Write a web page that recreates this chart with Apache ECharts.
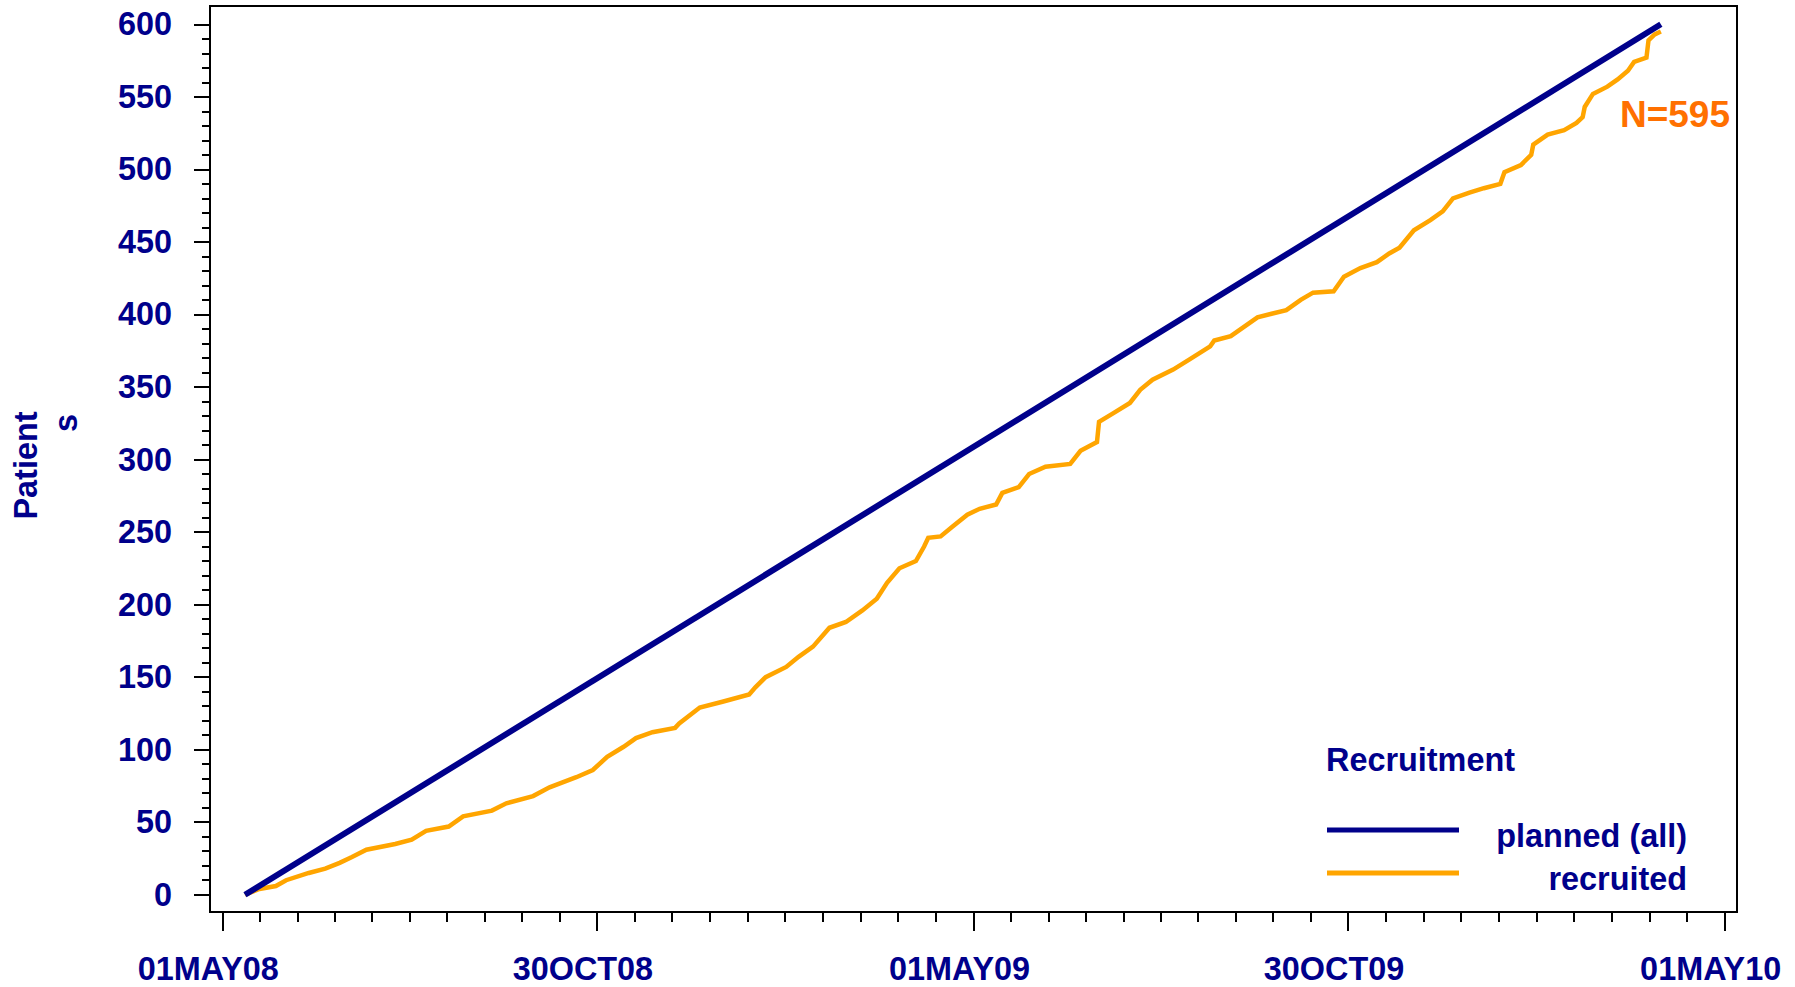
<!DOCTYPE html>
<html>
<head>
<meta charset="utf-8">
<script src="https://cdn.jsdelivr.net/npm/echarts@6/dist/echarts.min.js"></script>
<style>
  html, body { margin: 0; padding: 0; background: #fff; }
  #chart { width: 1795px; height: 987px; }
</style>
</head>
<body>
<div id="chart"></div>
<script>
// ---- data ----
const startDate = '2008-05-01';
const xTickDates = ['2008-05-01', '2008-10-30', '2009-05-01', '2009-10-30', '2010-05-01'];
const xTickLabels = ['01MAY08', '30OCT08', '01MAY09', '30OCT09', '01MAY10'];
const yTickValues = [0, 50, 100, 150, 200, 250, 300, 350, 400, 450, 500, 550, 600];

const plannedDates = ['2008-05-12', '2010-03-31'];
const plannedValues = [0, 600];

// days since 01MAY08
const recruitDay = [11, 18, 26, 31, 42, 50, 57, 63, 70, 84, 92, 99, 110, 117, 131, 138, 151, 159, 172, 180,
  187, 195, 201, 209, 220, 222, 232, 243, 256, 259, 264, 274, 280, 287, 295, 303, 311, 318, 323, 329,
  337, 341, 343, 349, 355, 362, 368, 376, 379, 387, 392, 400, 412, 417, 425, 426, 433, 441, 446, 452,
  462, 470, 480, 482, 490, 494, 503, 517, 524, 530, 540, 545, 553, 561, 567, 572, 579, 587, 593, 598,
  606, 613, 621, 623, 631, 636, 637, 644, 652, 658, 661, 662, 666, 673, 678, 683, 686, 692, 693, 696, 699];
const recruitCount = [0, 4, 6, 10, 15, 18, 22, 26, 31, 35, 38, 44, 47, 54, 58, 63, 68, 74, 81, 86,
  95, 102, 108, 112, 115, 118, 129, 133, 138, 143, 150, 157, 164, 171, 184, 188, 196, 204, 215, 225,
  230, 240, 246, 247, 254, 262, 266, 269, 277, 281, 290, 295, 297, 306, 312, 326, 332, 339, 348, 355,
  362, 369, 378, 382, 385, 389, 398, 403, 410, 415, 416, 426, 432, 436, 442, 446, 458, 465, 471, 480,
  484, 487, 490, 498, 503, 510, 517, 524, 527, 532, 536, 543, 552, 557, 562, 568, 574, 577, 589, 593, 595];
const finalLabel = 'N=595';

// ---- helpers ----
const DAY = 86400000;
function dayOf(s) { return (Date.parse(s + 'T00:00:00Z') - Date.parse(startDate + 'T00:00:00Z')) / DAY; }
const xTickDays = xTickDates.map(dayOf);
const xMinorDays = [];
for (let i = 0; i < xTickDays.length - 1; i++) {
  const a = xTickDays[i], b = xTickDays[i + 1];
  for (let k = 1; k < 10; k++) xMinorDays.push(a + (b - a) * k / 10);
}
const yMinorValues = [];
for (let i = 0; i < yTickValues.length - 1; i++) {
  const a = yTickValues[i], b = yTickValues[i + 1];
  for (let k = 1; k < 5; k++) yMinorValues.push(a + (b - a) * k / 5);
}

const NAVY = '#00008B';
const ORANGE = '#FFA500';
const FONT = "'Liberation Sans', Arial, Helvetica, sans-serif";
const FS = 32.4;

const xMin = -6, xMax = 736;
const yMin = -11.9, yMax = 612.6;

const chart = echarts.init(document.getElementById('chart'), null, { renderer: 'svg' });

const option = {
  backgroundColor: '#ffffff',
  animation: false,
  grid: {
    left: 210, right: 58, top: 6, bottom: 75,
    show: true, borderColor: '#000', borderWidth: 2,
    containLabel: false, outerBoundsMode: 'none'
  },
  xAxis: [
    {
      type: 'value', min: xMin, max: xMax, position: 'bottom',
      axisLine: { show: true, onZero: false, lineStyle: { color: '#000', width: 2 } },
      axisTick: { show: true, length: 19, customValues: xTickDays, lineStyle: { color: '#000', width: 2 } },
      axisLabel: {
        show: true, customValues: xTickDays, margin: 41,
        padding: [0, 28, 0, 0],
        color: NAVY, fontSize: FS, fontWeight: 'bold', fontFamily: FONT,
        formatter: function (v) {
          const i = xTickDays.findIndex(d => Math.abs(d - v) < 0.5);
          return i >= 0 ? xTickLabels[i] : '';
        }
      },
      splitLine: { show: false }
    },
    {
      type: 'value', min: xMin, max: xMax, position: 'bottom',
      axisLine: { show: false, onZero: false },
      axisTick: { show: true, length: 10, customValues: xMinorDays, lineStyle: { color: '#000', width: 2 } },
      axisLabel: { show: false },
      splitLine: { show: false }
    }
  ],
  yAxis: [
    {
      type: 'value', min: yMin, max: yMax, position: 'left',
      axisLine: { show: true, onZero: false, lineStyle: { color: '#000', width: 2 } },
      axisTick: { show: true, length: 16, customValues: yTickValues, lineStyle: { color: '#000', width: 2 } },
      axisLabel: {
        show: true, customValues: yTickValues, margin: 38,
        color: NAVY, fontSize: FS, fontWeight: 'bold', fontFamily: FONT
      },
      splitLine: { show: false }
    },
    {
      type: 'value', min: yMin, max: yMax, position: 'left',
      axisLine: { show: false, onZero: false },
      axisTick: { show: true, length: 8, customValues: yMinorValues, lineStyle: { color: '#000', width: 2 } },
      axisLabel: { show: false },
      splitLine: { show: false }
    }
  ],
  legend: {
    orient: 'vertical', left: 1327, top: 808, padding: 0,
    icon: 'rect', itemWidth: 132, itemHeight: 5, itemGap: -1,
    data: ['planned (all)', 'recruited'],
    formatter: function (name) { return '{r|' + name + '}'; },
    textStyle: {
      rich: {
        r: {
          width: 223, align: 'right', lineHeight: 30, padding: [12, 0, 0, 0],
          color: NAVY, fontSize: FS, fontWeight: 'bold', fontFamily: FONT
        }
      }
    }
  },
  graphic: [
    {
      type: 'text', x: 1326, y: 760, z: 100,
      style: { text: 'Recruitment', fill: NAVY, font: "bold 32.4px 'Liberation Sans', Arial, sans-serif",
        align: 'left', verticalAlign: 'middle', textAlign: 'left', textVerticalAlign: 'middle' }
    },
    {
      type: 'text', x: 1675, y: 114, z: 100,
      style: { text: finalLabel, fill: '#FF7000', font: "bold 37px 'Liberation Sans', Arial, sans-serif",
        align: 'center', verticalAlign: 'middle', textAlign: 'center', textVerticalAlign: 'middle' }
    },
    {
      type: 'text', x: 26, y: 465.5, rotation: Math.PI / 2, z: 100,
      style: { text: 'Patient', fill: NAVY, font: "bold 32.4px 'Liberation Sans', Arial, sans-serif",
        align: 'center', verticalAlign: 'middle', textAlign: 'center', textVerticalAlign: 'middle' }
    },
    {
      type: 'text', x: 66, y: 423, rotation: Math.PI / 2, z: 100,
      style: { text: 's', fill: NAVY, font: "bold 32.4px 'Liberation Sans', Arial, sans-serif",
        align: 'center', verticalAlign: 'middle', textAlign: 'center', textVerticalAlign: 'middle' }
    }
  ],
  series: [
    {
      name: 'planned (all)', type: 'line', xAxisIndex: 0, yAxisIndex: 0,
      data: plannedDates.map((d, i) => [dayOf(d), plannedValues[i]]),
      showSymbol: false, symbol: 'none', z: 3,
      color: NAVY,
      lineStyle: { color: NAVY, width: 6, cap: 'butt' }
    },
    {
      name: 'recruited', type: 'line', xAxisIndex: 0, yAxisIndex: 0,
      data: recruitDay.map((d, i) => [d, recruitCount[i]]),
      showSymbol: false, symbol: 'none', z: 2,
      color: ORANGE,
      lineStyle: { color: ORANGE, width: 4.5, join: 'miter' }
    }
  ]
};
chart.setOption(option);
</script>
</body>
</html>
